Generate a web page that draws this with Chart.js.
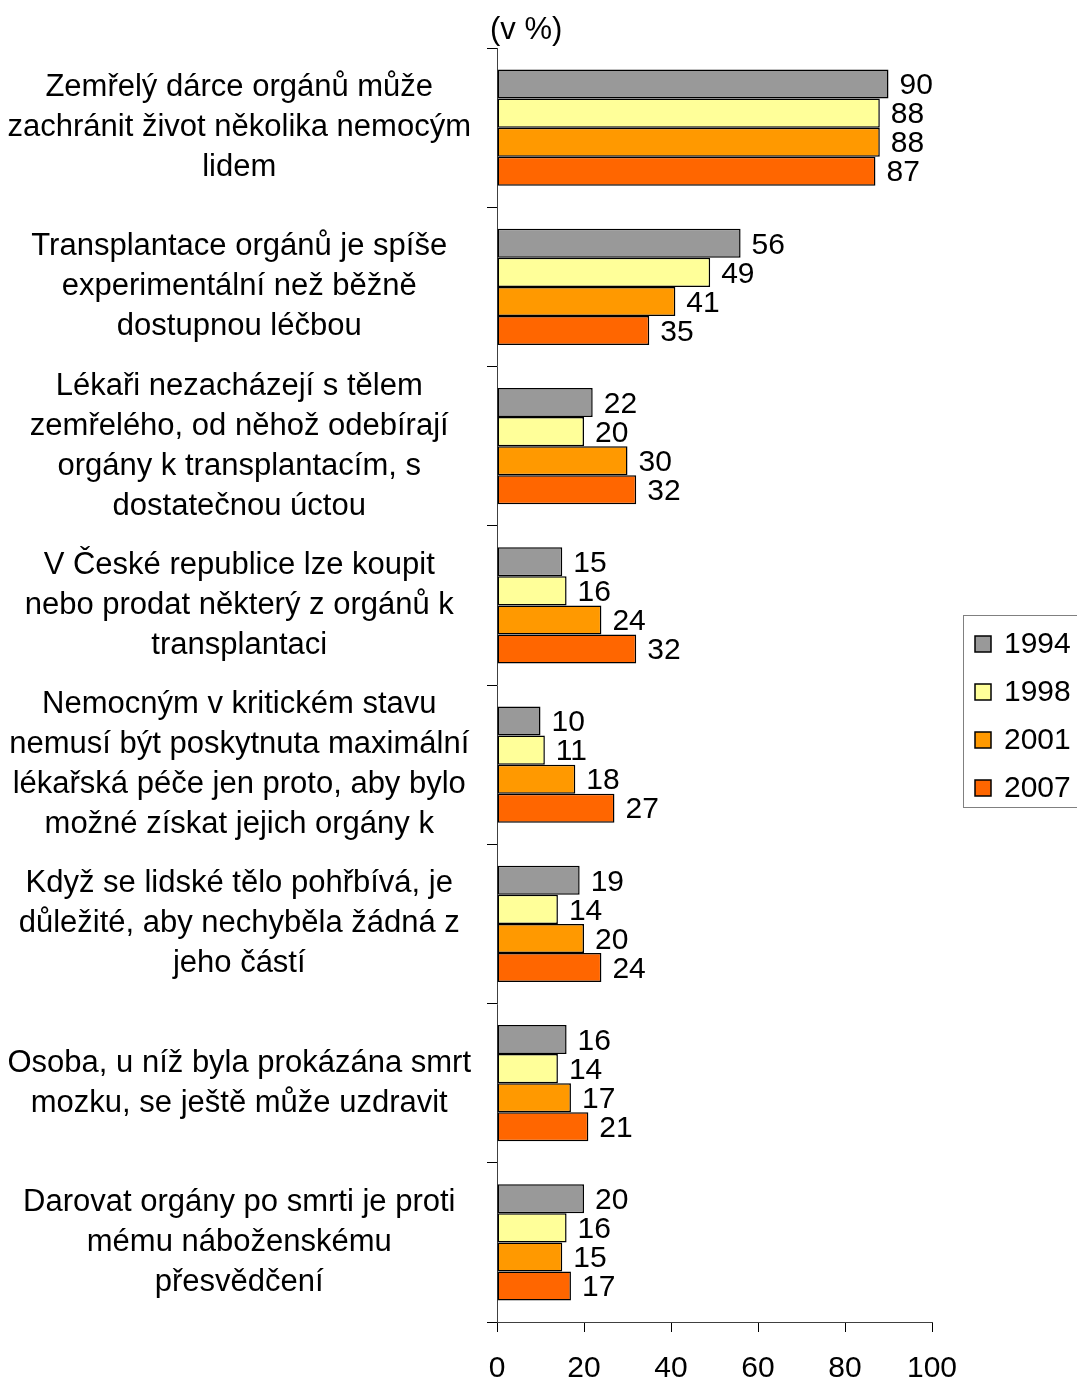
<!DOCTYPE html>
<html>
<head>
<meta charset="utf-8">
<script src="https://cdn.jsdelivr.net/npm/chart.js@4.4.0/dist/chart.umd.min.js"></script>
<style>
  body { margin: 0; background: #fff; }
  #wrap { width: 1077px; height: 1382px; }
</style>
</head>
<body>
<div id="wrap"><canvas id="transplantChart" width="1077" height="1382"></canvas></div>
<script>
const statements = [
    ['Zemřelý dárce orgánů může', 'zachránit život několika nemocým', 'lidem'],
    ['Transplantace orgánů je spíše', 'experimentální než běžně', 'dostupnou léčbou'],
    ['Lékaři nezacházejí s tělem', 'zemřelého, od něhož odebírají', 'orgány k transplantacím, s', 'dostatečnou úctou'],
    ['V České republice lze koupit', 'nebo prodat některý z orgánů k', 'transplantaci'],
    ['Nemocným v kritickém stavu', 'nemusí být poskytnuta maximální', 'lékařská péče jen proto, aby bylo', 'možné získat jejich orgány k'],
    ['Když se lidské tělo pohřbívá, je', 'důležité, aby nechyběla žádná z', 'jeho částí'],
    ['Osoba, u níž byla prokázána smrt', 'mozku, se ještě může uzdravit'],
    ['Darovat orgány po smrti je proti', 'mému náboženskému', 'přesvědčení']
];
const years = ['1994', '1998', '2001', '2007'];
const values1994 = [90, 56, 22, 15, 10, 19, 16, 20];
const values1998 = [88, 49, 20, 16, 11, 14, 14, 16];
const values2001 = [88, 41, 30, 24, 18, 20, 17, 15];
const values2007 = [87, 35, 32, 32, 27, 24, 21, 17];
const xTicks = [0, 20, 40, 60, 80, 100];
const colors = ['#999999', '#ffff99', '#ff9900', '#ff6600'];

const fontFamily = '"Liberation Sans", Arial, sans-serif';

// value labels, unit note and boxed legend
const extrasPlugin = {
    id: 'extras',
    afterDatasetsDraw(chart) {
        const ctx = chart.ctx;
        ctx.save();
        ctx.fillStyle = '#000';
        ctx.font = '30px ' + fontFamily;
        ctx.textAlign = 'left';
        ctx.textBaseline = 'middle';
        chart.data.datasets.forEach((ds, i) => {
            chart.getDatasetMeta(i).data.forEach((bar, j) => {
                ctx.fillText(ds.data[j], bar.x + 11, bar.y + 2);
            });
        });

        const area = chart.chartArea;
        ctx.font = '31px ' + fontFamily;
        ctx.fillText('(v %)', area.left - 7, 30);

        // legend
        ctx.font = '30px ' + fontFamily;
        ctx.strokeStyle = '#808080';
        ctx.lineWidth = 1;
        ctx.strokeRect(963.5, 615.5, 120, 192);
        chart.data.datasets.forEach((ds, i) => {
            const y = 644 + i * 48;
            ctx.fillStyle = ds.backgroundColor;
            ctx.fillRect(975, y - 8, 16, 16);
            ctx.strokeStyle = '#000';
            ctx.lineWidth = 1.5;
            ctx.strokeRect(975, y - 8, 16, 16);
            ctx.fillStyle = '#000';
            ctx.fillText(ds.label, 1004, y + 1);
        });
        ctx.restore();
    }
};

const ctx = document.getElementById('transplantChart').getContext('2d');
const transplantChart = new Chart(ctx, {
    type: 'bar',
    data: {
        labels: statements,
        datasets: [
            { label: years[0], data: values1994, backgroundColor: colors[0] },
            { label: years[1], data: values1998, backgroundColor: colors[1] },
            { label: years[2], data: values2001, backgroundColor: colors[2] },
            { label: years[3], data: values2007, backgroundColor: colors[3] }
        ].map(ds => Object.assign(ds, {
            borderColor: '#000',
            borderWidth: 1.5,
            borderSkipped: false,
            barPercentage: 1,
            categoryPercentage: 0.73
        }))
    },
    options: {
        indexAxis: 'y',
        responsive: false,
        animation: false,
        layout: { padding: { top: 48, right: 145, left: 0, bottom: 0 } },
        plugins: {
            legend: { display: false },
            tooltip: { enabled: false }
        },
        scales: {
            x: {
                min: 0,
                max: 100,
                afterBuildTicks(scale) {
                    scale.ticks = xTicks.map(v => ({ value: v }));
                },
                afterFit(scale) {
                    scale.height = 60;
                    scale.paddingLeft = 0;
                    scale.paddingRight = 0;
                },
                grid: { drawOnChartArea: false, tickLength: 10, color: '#000' },
                border: { color: '#404040', width: 1 },
                ticks: {
                    color: '#000',
                    padding: 19,
                    font: { family: fontFamily, size: 30 }
                }
            },
            y: {
                afterFit(scale) {
                    scale.width = 497;
                    scale.paddingTop = 0;
                    scale.paddingBottom = 0;
                },
                grid: { drawOnChartArea: false, tickLength: 10, color: '#000', offset: true },
                border: { color: '#404040', width: 1 },
                ticks: {
                    color: '#000',
                    autoSkip: false,
                    crossAlign: 'center',
                    padding: 16,
                    font: { family: fontFamily, size: 31, lineHeight: 1.29 }
                }
            }
        }
    },
    plugins: [extrasPlugin]
});
</script>
</body>
</html>
